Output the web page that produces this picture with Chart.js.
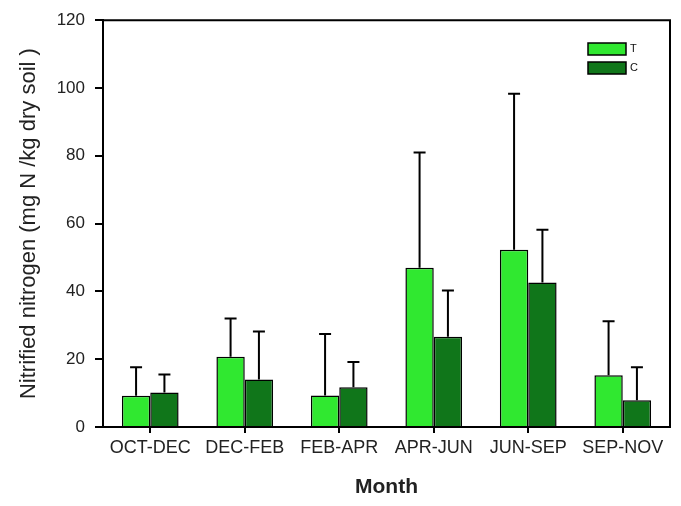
<!DOCTYPE html>
<html>
<head>
<meta charset="utf-8">
<script src="https://cdn.jsdelivr.net/npm/chart.js@4.4.1/dist/chart.umd.min.js"></script>
<style>
  html, body { margin: 0; padding: 0; background: #ffffff; }
  #wrap { width: 681px; height: 506px; position: relative; }
</style>
</head>
<body>
<div id="wrap"><canvas id="chart" width="681" height="506"></canvas></div>
<script>
// Sampling periods
const months = ['OCT-DEC', 'DEC-FEB', 'FEB-APR', 'APR-JUN', 'JUN-SEP', 'SEP-NOV'];

// Treatment (T) means and upper error
const treatmentMean = [9.2, 20.7, 9.3, 47.0, 52.3, 15.3];
const treatmentErr  = [8.4, 11.3, 18.1, 34.0, 46.0, 15.9];

// Control (C) means and upper error
const controlMean = [10.2, 14.0, 11.7, 26.6, 42.6, 7.9];
const controlErr  = [5.3, 14.2, 7.5, 13.7, 15.6, 9.7];

const yTicks = [0, 20, 40, 60, 80, 100, 120];

const COLOR_T = '#30e830';
const COLOR_C = '#10761a';
const FONT = "'Liberation Sans', Arial, sans-serif";

// Upward error bars drawn on top of each bar
const errorBars = {
  id: 'errorBars',
  afterDatasetsDraw(chart) {
    const { ctx } = chart;
    const y = chart.scales.y;
    const errs = [treatmentErr, controlErr];
    ctx.save();
    ctx.strokeStyle = '#000';
    ctx.lineWidth = 2;
    chart.data.datasets.forEach((ds, di) => {
      const meta = chart.getDatasetMeta(di);
      meta.data.forEach((bar, i) => {
        const top = y.getPixelForValue(ds.data[i]);
        const end = y.getPixelForValue(ds.data[i] + errs[di][i]);
        const x = bar.x;
        ctx.beginPath();
        ctx.moveTo(x, top);
        ctx.lineTo(x, end);
        ctx.moveTo(x - 6, end);
        ctx.lineTo(x + 6, end);
        ctx.stroke();
      });
    });
    ctx.restore();
  }
};

// Top and right frame lines plus the small legend
const frameAndLegend = {
  id: 'frameAndLegend',
  afterDraw(chart) {
    const { ctx, chartArea: a } = chart;
    ctx.save();
    ctx.strokeStyle = '#000';
    ctx.lineWidth = 2;
    ctx.beginPath();
    ctx.moveTo(a.left, a.top);
    ctx.lineTo(a.right, a.top);
    ctx.lineTo(a.right, a.bottom);
    ctx.stroke();

    const items = [
      { label: 'T', color: COLOR_T, y: 43 },
      { label: 'C', color: COLOR_C, y: 62 }
    ];
    items.forEach(it => {
      ctx.fillStyle = it.color;
      ctx.fillRect(588, it.y, 38, 12);
      ctx.lineWidth = 1.5;
      ctx.strokeStyle = '#000';
      ctx.strokeRect(588, it.y, 38, 12);
      ctx.fillStyle = '#111';
      ctx.font = '11px ' + FONT;
      ctx.textBaseline = 'middle';
      ctx.textAlign = 'left';
      ctx.fillText(it.label, 630, it.y + 6);
    });
    ctx.restore();
  }
};

new Chart(document.getElementById('chart'), {
  type: 'bar',
  data: {
    labels: months,
    datasets: [
      {
        label: 'T',
        data: treatmentMean,
        backgroundColor: COLOR_T,
        borderColor: '#000',
        borderWidth: 1.5,
        categoryPercentage: 0.6,
        barPercentage: 1.0
      },
      {
        label: 'C',
        data: controlMean,
        backgroundColor: COLOR_C,
        borderColor: '#000',
        borderWidth: 1.5,
        categoryPercentage: 0.6,
        barPercentage: 1.0
      }
    ]
  },
  options: {
    responsive: false,
    animation: false,
    layout: { padding: { top: 19, right: 11, bottom: 0, left: 0 } },
    plugins: {
      legend: { display: false },
      tooltip: { enabled: false }
    },
    scales: {
      x: {
        grid: {
          display: true,
          drawOnChartArea: false,
          drawTicks: true,
          tickLength: 6,
          offset: false,
          color: '#000',
          lineWidth: 2
        },
        border: { display: true, color: '#000', width: 2 },
        ticks: {
          autoSkip: false,
          maxRotation: 0,
          minRotation: 0,
          padding: 4,
          color: '#222',
          font: { family: FONT, size: 18 }
        },
        title: {
          display: true,
          text: 'Month',
          color: '#222',
          font: { family: FONT, size: 21, weight: 'bold' },
          padding: { top: 0, bottom: 6 }
        },
        afterFit(scale) { scale.height = 79; }
      },
      y: {
        min: 0,
        max: 120,
        afterBuildTicks(scale) { scale.ticks = yTicks.map(v => ({ value: v })); },
        grid: {
          display: true,
          drawOnChartArea: false,
          drawTicks: true,
          tickLength: 8,
          color: '#000',
          lineWidth: 2
        },
        border: { display: true, color: '#000', width: 2 },
        ticks: {
          padding: 10,
          color: '#222',
          font: { family: FONT, size: 17 }
        },
        title: {
          display: true,
          text: 'Nitrified nitrogen (mg N /kg dry soil )',
          color: '#222',
          font: { family: FONT, size: 22 },
          padding: { top: 16, bottom: 0 }
        },
        afterFit(scale) { scale.width = 103; }
      }
    }
  },
  plugins: [errorBars, frameAndLegend]
});
</script>
</body>
</html>
